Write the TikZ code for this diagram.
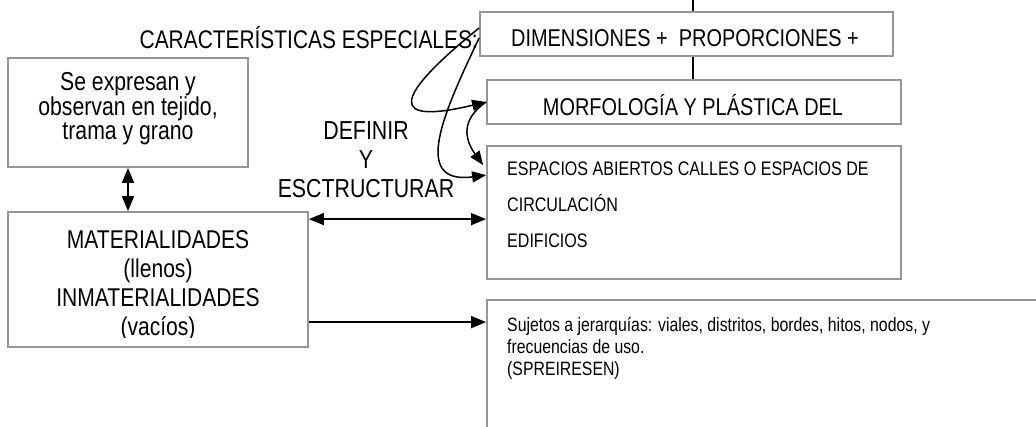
\documentclass[tikz,border=0pt]{standalone}
\usepackage{fontspec}
\setmainfont{Liberation Sans}[FakeStretch=0.82]
\usetikzlibrary{arrows.meta}
\definecolor{boxgray}{RGB}{150,150,150}
\begin{document}
\begin{tikzpicture}[x=1pt,y=-1pt,
  box/.style={draw=boxgray, line width=1.8pt, inner sep=0pt},
  txt/.style={inner sep=0pt},
  line/.style={line width=1.6pt},
  conn/.style={line width=1.6pt, -{Triangle[length=15pt,width=12pt]}},
  dbl/.style={line width=1.6pt, {Triangle[length=15pt,width=12pt]}-{Triangle[length=15pt,width=12pt]}},
  curv/.style={line width=1.5pt, -{Triangle[length=14pt,width=11pt]}}
]
\useasboundingbox (0,0) rectangle (1036,426);

% boxes (multi-line text nodes are anchored at the baseline of their last line)
\node[box, minimum width=413pt, minimum height=44pt] (dim) at (686.5,34) {};
\node[txt, anchor=base, font=\fontsize{24.3}{28}\selectfont] (dimT) at (685,46.5) {DIMENSIONES +\ \ PROPORCIONES +};
\node[box, minimum width=414pt, minimum height=44pt] (morf) at (694,102) {};
\node[txt, anchor=base, font=\fontsize{24.3}{28}\selectfont] (morfT) at (693,115) {MORFOLOGÍA Y PLÁSTICA DEL};
\node[box, minimum width=414pt, minimum height=133pt] (esp) at (694,212.5) {};
\node[txt, align=left, anchor=base west, font=\fontsize{19.6}{36}\selectfont] (espT) at (507,247)
  {ESPACIOS ABIERTOS CALLES O ESPACIOS DE\\CIRCULACIÓN\\EDIFICIOS};
\node[box, minimum width=560pt, minimum height=140pt] (suj) at (767,370) {};
\node[txt, align=left, anchor=base west, font=\fontsize{19.3}{21.7}\selectfont] (sujT) at (507,375.1)
  {Sujetos a jerarquías: viales, distritos, bordes, hitos, nodos, y\\frecuencias de uso.\\(SPREIRESEN)};
\node[box, minimum width=240pt, minimum height=109pt] (se) at (128,112.5) {};
\node[txt, align=center, anchor=base, font=\fontsize{25.9}{23.5}\selectfont] (seT) at (128,139)
  {Se expresan y\\observan en tejido,\\trama y grano};
\node[box, minimum width=300pt, minimum height=135pt] (mat) at (158,279.5) {};
\begin{scope}
\clip (mat.north west) rectangle ([yshift=10pt]mat.south east);
\node[txt, align=center, anchor=base, font=\fontsize{25.7}{29}\selectfont] (matT) at (158,335)
  {MATERIALIDADES\\(llenos)\\INMATERIALIDADES\\(vacíos)};
\end{scope}

% free labels
\node[txt, anchor=base east, font=\fontsize{25.5}{28}\selectfont] (car) at (478,48) {CARACTERÍSTICAS ESPECIALES:};
\node[txt, align=center, anchor=base, font=\fontsize{26}{29}\selectfont] (def) at (366,197) {DEFINIR\\Y\\ESCTRUCTURAR};

% connectors
\coordinate (top) at (693,0);
\draw[line] (top) -- (dim.north -| top);
\draw[line] (dim.south -| top) -- (morf.north -| top);
\draw[dbl] (se.south) -- (se.south |- mat.north);
\draw[dbl] ([yshift=-8pt]mat.north east) -- ([yshift=-8pt]mat.north east -| esp.west);
\draw[conn] ([yshift=-111pt]mat.north east) -- ([yshift=-111pt]mat.north east -| suj.west);

\draw[curv] ([yshift=6pt]dim.west) .. controls (390,100) and (390,125) .. (morf.west);
\draw[curv] ([yshift=-4pt]dim.west) .. controls (445,110) and (410,185) .. ([yshift=-30pt]esp.north west);
\draw[curv] (morf.west) .. controls (460,120) and (465,140) .. ([xshift=-3pt,yshift=-20pt]esp.north west);
\end{tikzpicture}
\end{document}
